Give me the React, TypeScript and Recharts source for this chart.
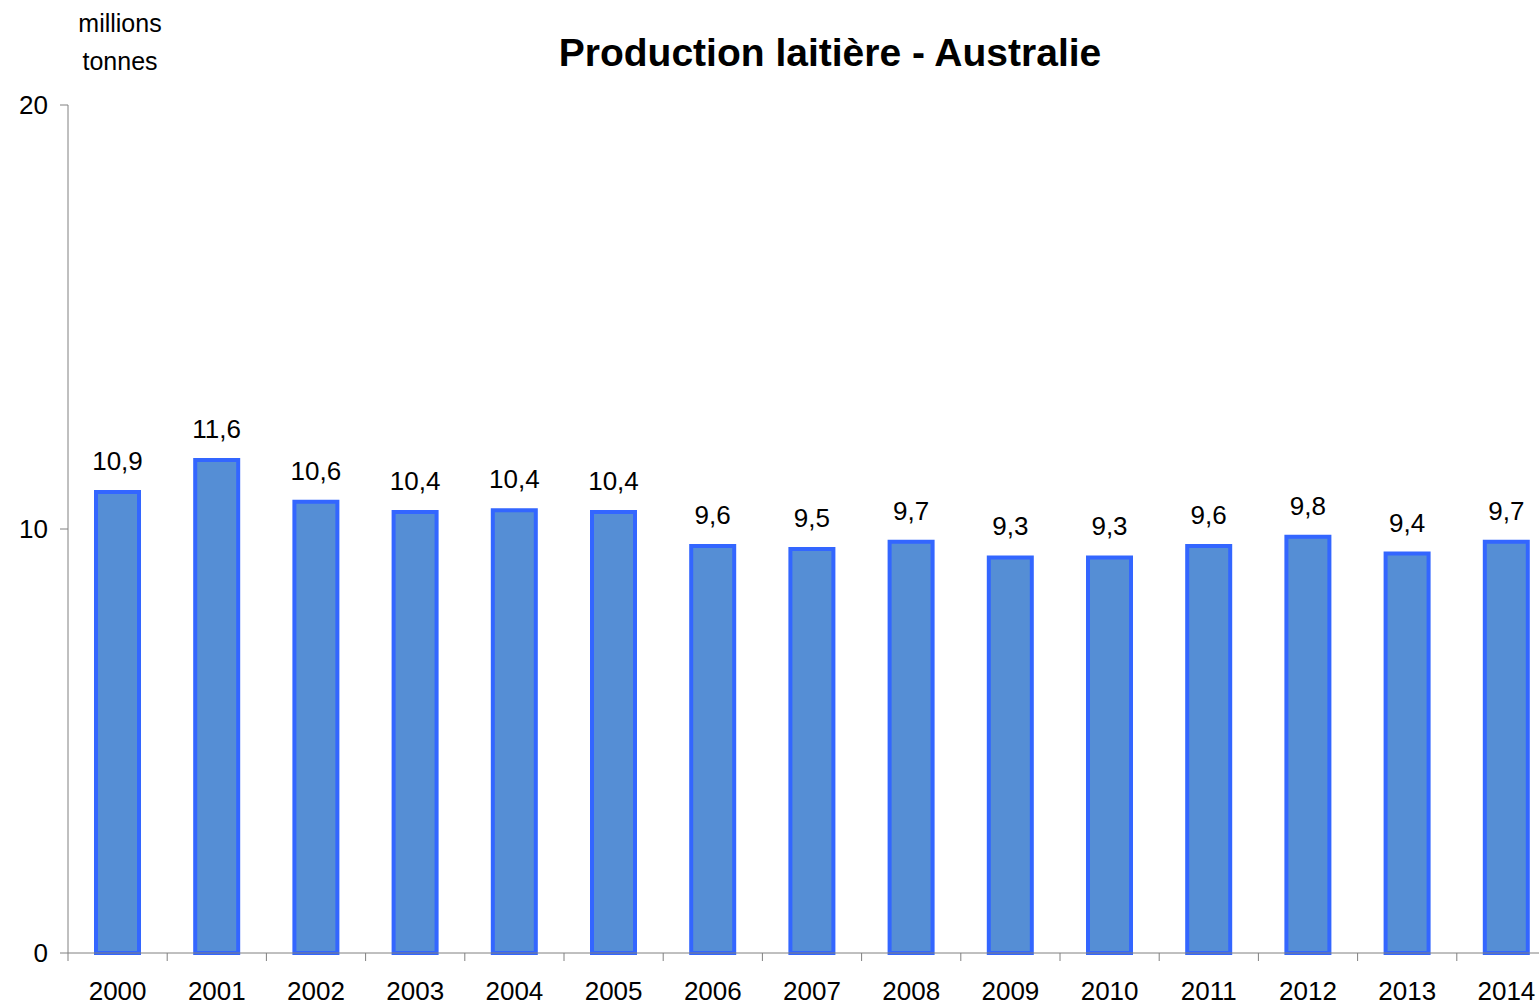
import React from "react";
import { BarChart, Bar, XAxis, YAxis, LabelList } from "recharts";

const years = [
  "2000", "2001", "2002", "2003", "2004", "2005", "2006", "2007",
  "2008", "2009", "2010", "2011", "2012", "2013", "2014",
];
const production = [
  10.87, 11.63, 10.64, 10.4, 10.44, 10.4, 9.6, 9.53, 9.7, 9.33, 9.33, 9.6,
  9.82, 9.42, 9.7,
];
const yTicks = [0, 10, 20];

const data = years.map((year, i) => ({ year, value: production[i] }));

const CHART_W = 1600;
const CHART_H = 1005;
const Y_AXIS_W = 68;
const MARGIN_RIGHT = 44;
const BAND = (CHART_W - Y_AXIS_W - MARGIN_RIGHT) / years.length;
const FONT = "'Liberation Sans', Arial, sans-serif";

const fmt = (v: any) => Number(v).toFixed(1).replace(".", ",");

// ticks sit between categories, labels under the bars
function YearTick(props: any) {
  const { x, y, payload } = props;
  const left = x - BAND / 2;
  const axisY = y - 8;
  return (
    <g>
      <line x1={left} y1={axisY} x2={left} y2={axisY + 8} stroke="#808080" strokeWidth={1} />
      <text
        x={x}
        y={axisY + 47}
        textAnchor="middle"
        fontSize={26}
        fontFamily={FONT}
        fill="#000"
      >
        {payload.value}
      </text>
    </g>
  );
}

export default function App() {
  return (
    <div
      style={{
        position: "fixed",
        left: 0,
        top: 0,
        width: 1539,
        height: 1005,
        overflow: "hidden",
        background: "#fff",
        fontFamily: FONT,
      }}
    >
      <div
        style={{
          position: "absolute",
          left: 58,
          top: 4,
          width: 124,
          textAlign: "center",
          fontSize: 25,
          lineHeight: "38px",
          color: "#000",
        }}
      >
        millions
        <br />
        tonnes
      </div>
      <div
        style={{
          position: "absolute",
          left: 430,
          top: 31,
          width: 800,
          textAlign: "center",
          fontSize: 39,
          fontWeight: "bold",
          color: "#000",
        }}
      >
        Production laitière - Australie
      </div>
      <BarChart
        width={CHART_W}
        height={CHART_H}
        data={data}
        margin={{ top: 105, right: MARGIN_RIGHT, bottom: 0, left: 0 }}
        style={{ position: "absolute", left: 0, top: 0 }}
      >
        <YAxis
          width={Y_AXIS_W}
          domain={[0, 20]}
          ticks={yTicks}
          interval={0}
          stroke="#808080"
          tickSize={8}
          tickMargin={12}
          tick={{ fill: "#000", fontSize: 26, fontFamily: FONT }}
        />
        <XAxis
          dataKey="year"
          height={52}
          interval={0}
          stroke="#808080"
          tickLine={false}
          tickSize={8}
          tickMargin={0}
          tick={<YearTick />}
        />
        <Bar
          dataKey="value"
          fill="#558ED5"
          stroke="#3366FF"
          strokeWidth={4}
          barSize={43}
          isAnimationActive={false}
        >
          <LabelList
            dataKey="value"
            position="top"
            offset={22}
            formatter={fmt}
            fill="#000"
            fontSize={26}
            fontFamily={FONT}
          />
        </Bar>
      </BarChart>
    </div>
  );
}
